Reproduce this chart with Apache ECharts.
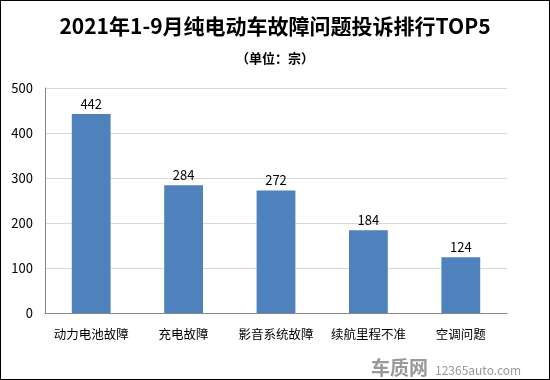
<!DOCTYPE html>
<html><head><meta charset="utf-8">
<script src="https://cdn.jsdelivr.net/npm/echarts@6/dist/echarts.min.js"></script>
<style>html,body{margin:0;padding:0;background:#fff}#c{width:550px;height:380px;box-sizing:border-box;border:1px solid #000}</style>
</head><body><div id="c"></div>
<script>
const categories = ['动力电池故障','充电故障','影音系统故障','续航里程不准','空调问题'];
const values = [442, 284, 272, 184, 124];
const yTicks = [0, 100, 200, 300, 400, 500];
const titleText = '2021年1-9月纯电动车故障问题投诉排行TOP5';
const subText = '（单位：宗）';

const chart = echarts.init(document.getElementById('c'));
const font = '"Noto Sans CJK SC", "Microsoft YaHei", sans-serif';
chart.setOption({
  animation: false,
  title: [{
    text: titleText, left: 'center', top: 10,
    textStyle: {fontFamily: font, fontSize: 21, fontWeight: 'bold', color: '#000'}
  },{
    text: subText, left: 'center', top: 46,
    textStyle: {fontFamily: font, fontSize: 13, fontWeight: 'bold', color: '#000'}
  }],
  grid: {left: 44, right: 42, top: 87, bottom: 66},
  xAxis: {
    type: 'category', data: categories,
    axisLine: {lineStyle: {color: '#888'}},
    axisTick: {show: false},
    axisLabel: {color: '#000', fontSize: 12.5, fontFamily: font, margin: 15, interval: 0}
  },
  yAxis: {
    type: 'value', min: yTicks[0], max: yTicks[yTicks.length-1], interval: 100,
    axisLine: {show: true, lineStyle: {color: '#888'}},
    axisTick: {show: false},
    splitLine: {lineStyle: {color: '#d9d9d9'}},
    axisLabel: {color: '#000', fontSize: 13, fontFamily: font, margin: 12}
  },
  series: [{
    type: 'bar', data: values, barWidth: '42%',
    itemStyle: {color: '#4f81bd'},
    label: {show: true, position: 'top', color: '#000', fontSize: 13, fontFamily: font, distance: 4}
  }],
  graphic: [{
    type: 'text', left: 370, top: 357,
    style: {text: '车质网', fill: '#999', font: 'bold 19px ' + font}
  },{
    type: 'text', left: 434, top: 363,
    style: {text: '12365auto.com', fill: '#999', font: '12px ' + font}
  }]
});
</script></body></html>
